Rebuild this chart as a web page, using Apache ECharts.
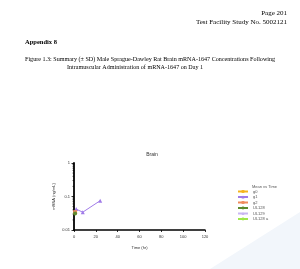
<!DOCTYPE html>
<html><head><meta charset="utf-8">
<script src="https://cdn.jsdelivr.net/npm/echarts@6/dist/echarts.min.js"></script>
<style>html,body{margin:0;padding:0;background:#fff}#c{width:300px;height:269px}</style>
</head><body><div id="c"></div>
<script>
const xTicks = [0, 20, 40, 60, 80, 100, 120];
const yTickLabels = ['0.01', '0.1', '1'];
const seriesNames = ['g0', 'g1', 'g2', 'UL128', 'UL129', 'UL128 a'];
const seriesColors = ['#f5b41e', '#a07be8', '#f08a5d', '#5e8a2e', '#c9b6f2', '#9fe64a'];
const seriesSymbols = ['rect', 'triangle', 'rect', 'circle', 'triangle', 'circle'];
const times_g0 = [];
const vals_g0 = [];
const times_g1 = [2, 8, 24];
const vals_g1 = [0.042, 0.034, 0.075];
const times_g2 = [1];
const vals_g2 = [0.034];
const times_ul128 = [1];
const vals_ul128 = [0.031];
const times_ul129 = [];
const vals_ul129 = [];
const times_ul128a = [];
const vals_ul128a = [];
const allTimes = [times_g0, times_g1, times_g2, times_ul128, times_ul129, times_ul128a];
const allVals = [vals_g0, vals_g1, vals_g2, vals_ul128, vals_ul129, vals_ul128a];

const chart = echarts.init(document.getElementById('c'), null, {renderer: 'canvas'});
const serif = 'Liberation Serif';
const sans = 'Liberation Sans';

const series = seriesNames.map((n, i) => ({
  name: n, type: 'line',
  data: allTimes[i].map((t, j) => [t, allVals[i][j]]),
  symbol: seriesSymbols[i], symbolSize: 4,
  itemStyle: {color: seriesColors[i]},
  lineStyle: {color: seriesColors[i], width: 1},
  showSymbol: true, animation: false
}));

chart.setOption({
  animation: false,
  grid: {left: 74, top: 163, width: 131, height: 67, containLabel: false},
  title: {text: 'Brain', left: 152, top: 152, textAlign: 'center', padding: 0,
    textStyle: {fontFamily: sans, fontSize: 5, fontWeight: 'normal', color: '#333'}},
  xAxis: {
    type: 'value', min: 0, max: 120, interval: 20,
    name: 'Time (hr)', nameLocation: 'middle', nameGap: 16,
    nameTextStyle: {fontFamily: sans, fontSize: 4, color: '#333'},
    axisLine: {lineStyle: {color: '#000', width: 1.5}},
    axisTick: {length: 2, lineStyle: {color: '#000', width: 0.8}},
    axisLabel: {fontFamily: sans, fontSize: 4, color: '#333', margin: 5},
    splitLine: {show: false}
  },
  yAxis: {
    type: 'log', logBase: 10, min: 0.01, max: 1,
    name: 'mRNA (ng/mL)', nameLocation: 'middle', nameGap: 18, nameRotate: 90,
    nameTextStyle: {fontFamily: sans, fontSize: 4, color: '#333'},
    axisLine: {show: true, lineStyle: {color: '#000', width: 1.8}},
    axisTick: {length: 2.5, lineStyle: {color: '#000', width: 0.8}},
    axisLabel: {fontFamily: sans, fontSize: 4, color: '#333', margin: 4,
      formatter: v => yTickLabels.find(s => Math.abs(parseFloat(s) - v) < v * 1e-6) || ''},
    splitLine: {show: false}
  },
  legend: {
    orient: 'vertical', left: 237, top: 189.5, itemGap: 1.5, padding: 0,
    itemWidth: 10, itemHeight: 3.5,
    textStyle: {fontFamily: sans, fontSize: 4, color: '#555'},
    data: seriesNames
  },
  series: series,
  graphic: [
    {type: 'polygon', silent: true, z: -10,
      shape: {points: [[210, 269], [300, 212], [300, 269]]},
      style: {fill: '#f2f6fb'}},
    {type: 'text', right: 13, top: 9.5, style: {text: 'Page 201', fontFamily: serif, fontSize: 7, fill: '#000'}},
    {type: 'text', right: 13, top: 19, style: {text: 'Test Facility Study No. 5002121', fontFamily: serif, fontSize: 7, fill: '#000'}},
    {type: 'text', left: 25, top: 39, style: {text: 'Appendix 8', fontFamily: serif, fontSize: 6.5, fontWeight: 'bold', fill: '#000'}},
    {type: 'text', left: 25, top: 56.5, style: {text: 'Figure 1.3: Summary (\u00b1 SD) Male Sprague-Dawley Rat Brain mRNA-1647 Concentrations Following', fontFamily: serif, fontSize: 6.1, fill: '#000'}},
    {type: 'text', left: 67, top: 64, style: {text: 'Intramuscular Administration of mRNA-1647 on Day 1', fontFamily: serif, fontSize: 6.1, fill: '#000'}},
    {type: 'text', left: 252, top: 184.5, style: {text: 'Mean vs Time', fontFamily: sans, fontSize: 4, fill: '#555'}}
  ]
});

// true logarithmic minor ticks on y axis
const minor = [];
for (let d = 0.01; d < 0.99; d *= 10) {
  for (let k = 2; k <= 9; k++) {
    const v = d * k;
    const p = chart.convertToPixel({gridIndex: 0}, [0, v]);
    minor.push({type: 'line', silent: true,
      shape: {x1: p[0] - 1.5, y1: p[1], x2: p[0], y2: p[1]},
      style: {stroke: '#000', lineWidth: 0.6}});
  }
}
const opt = chart.getOption();
chart.setOption({graphic: opt.graphic[0].elements.concat(minor)});
</script></body></html>
